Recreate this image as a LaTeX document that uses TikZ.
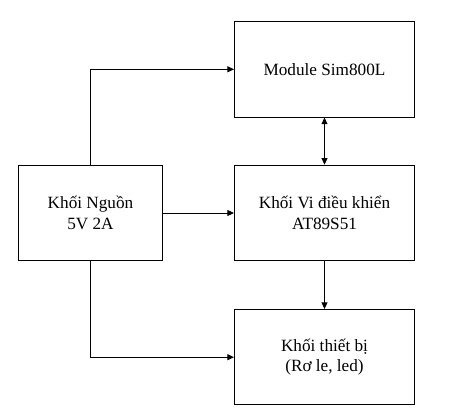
\documentclass[tikz,border=0pt]{standalone}
\usepackage{fontspec}
\setmainfont{Liberation Serif}
\usetikzlibrary{arrows.meta}
\begin{document}
\begin{tikzpicture}[
  x=0.75pt, y=-0.75pt,
  block/.style={draw, line width=0.75pt, minimum width=135pt, minimum height=71.6pt,
    align=center, font=\fontsize{12.9pt}{15.5pt}\selectfont, inner sep=0pt},
  link/.style={line width=0.75pt, -{Triangle[length=5pt,width=4.5pt]}}
]
\useasboundingbox (0,0) rectangle (457,414);

\node [block] (sim) at (324.5,69.3) {Module Sim800L};
\node [block] (mcu) at (324.5,213) {Khối Vi điều khiển\\AT89S51};
\node [block] (dev) at (324.5,357.2) {Khối thiết bị\\(Rơ le, led)};
\node [block, minimum width=108pt] (psu) at (90.5,213) {Khối Nguồn\\5V 2A};

\draw [link] (psu.north) |- (sim.west);
\draw [link] (psu.east) -- (mcu.west);
\draw [link] (psu.south) |- (dev.west);
\draw [link, {Triangle[length=5pt,width=4.5pt]}-{Triangle[length=5pt,width=4.5pt]}] (mcu.north) -- (sim.south);
\draw [link] (mcu.south) -- (dev.north);
\end{tikzpicture}
\end{document}
